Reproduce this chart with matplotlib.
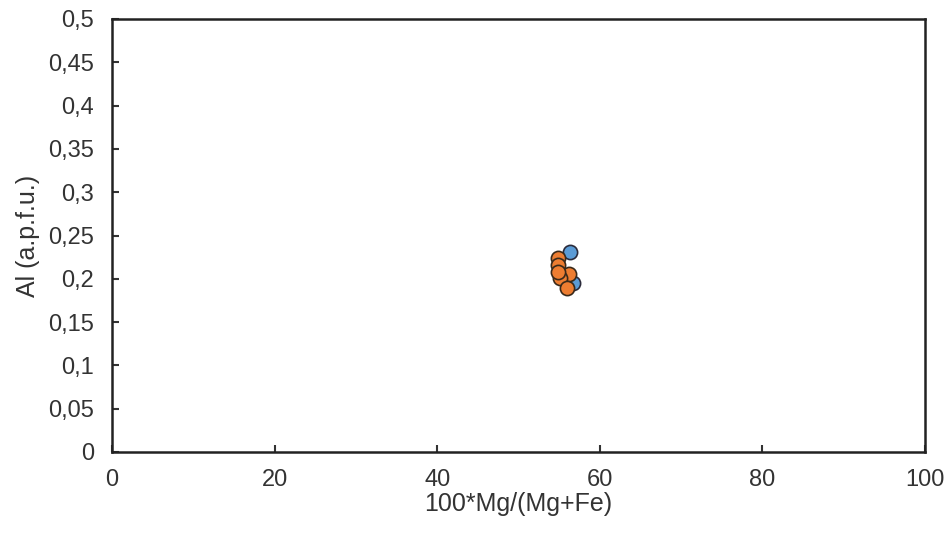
import matplotlib.pyplot as plt
from matplotlib.ticker import FuncFormatter

plt.rcParams['font.family'] = ['Liberation Sans', 'DejaVu Sans']

# series A (blue)
blue_x = [56.7, 56.3]
blue_y = [0.195, 0.231]
# series B (orange)
orange_x = [54.9, 54.9, 56.2, 55.1, 54.9, 56.0]
orange_y = [0.224, 0.216, 0.206, 0.201, 0.208, 0.189]

fig = plt.figure(figsize=(9.5, 5.37), dpi=100)
ax = fig.add_axes([112 / 950, 1 - 452 / 537, (925 - 112) / 950, (452 - 19) / 537])

ax.scatter(blue_x, blue_y, s=105, c='#5b9bd5', edgecolors='#2b2b3b', linewidths=1.2, zorder=3)
ax.scatter(orange_x, orange_y, s=105, c='#ed7d31', edgecolors='#3a2a1a', linewidths=1.2, zorder=4)

ax.set_xlim(0, 100)
ax.set_ylim(0, 0.5)
ax.set_xticks(range(0, 101, 20))
ax.set_yticks([i * 0.05 for i in range(11)])
ax.yaxis.set_major_formatter(FuncFormatter(lambda v, p: ('%g' % round(v, 2)).replace('.', ',')))

for s in ax.spines.values():
    s.set_linewidth(1.8)
    s.set_color('#222222')
ax.tick_params(direction='in', length=5, width=1.5, labelsize=17, colors='#333333')
ax.tick_params(axis='y', pad=13)
ax.tick_params(axis='x', pad=12)

ax.set_xlabel('100*Mg/(Mg+Fe)', fontsize=18, color='#333333', labelpad=1)
ax.set_ylabel('Al (a.p.f.u.)', fontsize=18, color='#333333', labelpad=6)

plt.savefig('out.png', dpi=100)
